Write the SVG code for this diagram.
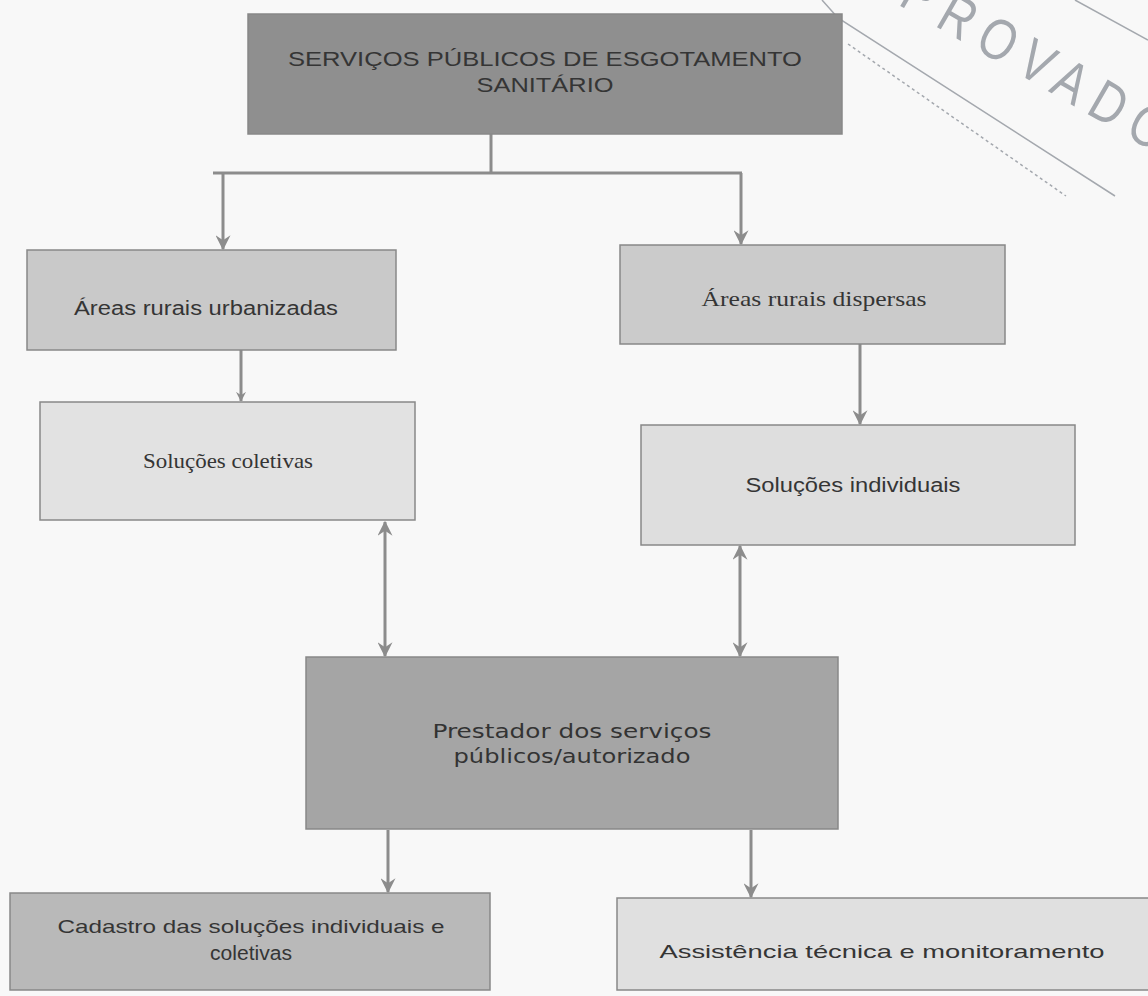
<svg xmlns="http://www.w3.org/2000/svg" width="1148" height="996" viewBox="0 0 1148 996">
<defs>
<style>
.box{stroke:#888888;stroke-width:1.5}
.sans{font-family:"Liberation Sans",Arial,sans-serif;fill:#353535}
.serif{font-family:"Liberation Serif","Times New Roman",serif;fill:#353535}
.dv{font-family:"DejaVu Sans",Verdana,sans-serif;fill:#333333}
.conn{stroke:#8c8c8c;stroke-width:3;fill:none}
.stamp{stroke:#a4a8ae;stroke-width:1.5;fill:none}
</style>
<marker id="ah" viewBox="0 0 12 12" refX="11" refY="6" markerWidth="15" markerHeight="15" markerUnits="userSpaceOnUse" orient="auto-start-reverse">
<path d="M0,0 L12,6 L0,12 L4,6 z" fill="#8c8c8c"/>
</marker>
<marker id="ahs" viewBox="0 0 12 12" refX="11" refY="6" markerWidth="10" markerHeight="10" markerUnits="userSpaceOnUse" orient="auto">
<path d="M0,0 L12,6 L0,12 L4,6 z" fill="#8c8c8c"/>
</marker>
</defs>
<rect width="1148" height="996" fill="#f8f8f8"/>

<g id="stamp">
<polyline class="stamp" points="822,0 838,18 1115,196"/>
<line class="stamp" x1="848" y1="44" x2="1066" y2="196" stroke-dasharray="3 3" stroke-width="1.2"/>
<line class="stamp" x1="1075" y1="0" x2="1148" y2="40"/>
<text x="0" y="0" transform="translate(897,4) rotate(30) scale(0.8,1)" font-family="Liberation Sans,Arial,sans-serif" font-size="58" fill="#a4a8ae" textLength="372" lengthAdjust="spacing">PROVADO</text>
</g>

<g id="connectors">
<line class="conn" x1="491" y1="134" x2="491" y2="173"/>
<line class="conn" x1="213" y1="173" x2="742" y2="173" stroke-width="4"/>
<line class="conn" x1="223" y1="173" x2="223" y2="249" marker-end="url(#ah)"/>
<line class="conn" x1="741" y1="173" x2="741" y2="244" marker-end="url(#ah)"/>
<line class="conn" x1="241" y1="350" x2="241" y2="401" marker-end="url(#ahs)"/>
<line class="conn" x1="860" y1="344" x2="860" y2="424" marker-end="url(#ah)"/>
<line class="conn" x1="385" y1="522" x2="385" y2="656" marker-start="url(#ah)" marker-end="url(#ah)"/>
<line class="conn" x1="740" y1="546" x2="740" y2="656" marker-start="url(#ah)" marker-end="url(#ah)"/>
<line class="conn" x1="388" y1="830" x2="388" y2="892" marker-end="url(#ah)"/>
<line class="conn" x1="751" y1="830" x2="751" y2="897" marker-end="url(#ah)"/>
</g>

<g id="top">
<rect class="box" x="248" y="14" width="594" height="120" fill="#8f8f8f"/>
<text class="sans" x="545" y="66" font-size="21" text-anchor="middle" textLength="514" lengthAdjust="spacingAndGlyphs">SERVIÇOS PÚBLICOS DE ESGOTAMENTO</text>
<text class="sans" x="545" y="92" font-size="21" text-anchor="middle" textLength="137" lengthAdjust="spacingAndGlyphs">SANITÁRIO</text>
</g>

<g id="urbanizadas">
<rect class="box" x="27" y="250" width="369" height="100" fill="#c9c9c9"/>
<text class="sans" x="206" y="315" font-size="20" text-anchor="middle" textLength="264" lengthAdjust="spacingAndGlyphs">Áreas rurais urbanizadas</text>
</g>

<g id="coletivas">
<rect class="box" x="40" y="402" width="375" height="118" fill="#e2e2e2"/>
<text class="serif" x="228" y="468" font-size="21" text-anchor="middle" textLength="170" lengthAdjust="spacingAndGlyphs">Soluções coletivas</text>
</g>

<g id="dispersas">
<rect class="box" x="620" y="245" width="385" height="99" fill="#cbcbcb"/>
<text class="serif" x="814" y="306" font-size="21" text-anchor="middle" textLength="225" lengthAdjust="spacingAndGlyphs">Áreas rurais dispersas</text>
</g>

<g id="individuais">
<rect class="box" x="641" y="425" width="434" height="120" fill="#dedede"/>
<text class="sans" x="853" y="492" font-size="20" text-anchor="middle" textLength="215" lengthAdjust="spacingAndGlyphs">Soluções individuais</text>
</g>

<g id="prestador">
<rect class="box" x="306" y="657" width="532" height="172" fill="#a5a5a5"/>
<text class="dv" x="572" y="738" font-size="19" text-anchor="middle" textLength="279" lengthAdjust="spacingAndGlyphs">Prestador dos serviços</text>
<text class="dv" x="572" y="763" font-size="19" text-anchor="middle" textLength="237" lengthAdjust="spacingAndGlyphs">públicos/autorizado</text>
</g>

<g id="cadastro">
<rect class="box" x="10" y="893" width="480" height="97" fill="#b9b9b9"/>
<text class="sans" x="251" y="933" font-size="19" text-anchor="middle" textLength="387" lengthAdjust="spacingAndGlyphs">Cadastro das soluções individuais e</text>
<text class="sans" x="251" y="960" font-size="20" text-anchor="middle" textLength="82" lengthAdjust="spacingAndGlyphs">coletivas</text>
</g>

<g id="assistencia">
<rect class="box" x="617" y="898" width="540" height="92" fill="#e0e0e0"/>
<text class="sans" x="882" y="958" font-size="19" text-anchor="middle" textLength="445" lengthAdjust="spacingAndGlyphs">Assistência técnica e monitoramento</text>
</g>
</svg>
